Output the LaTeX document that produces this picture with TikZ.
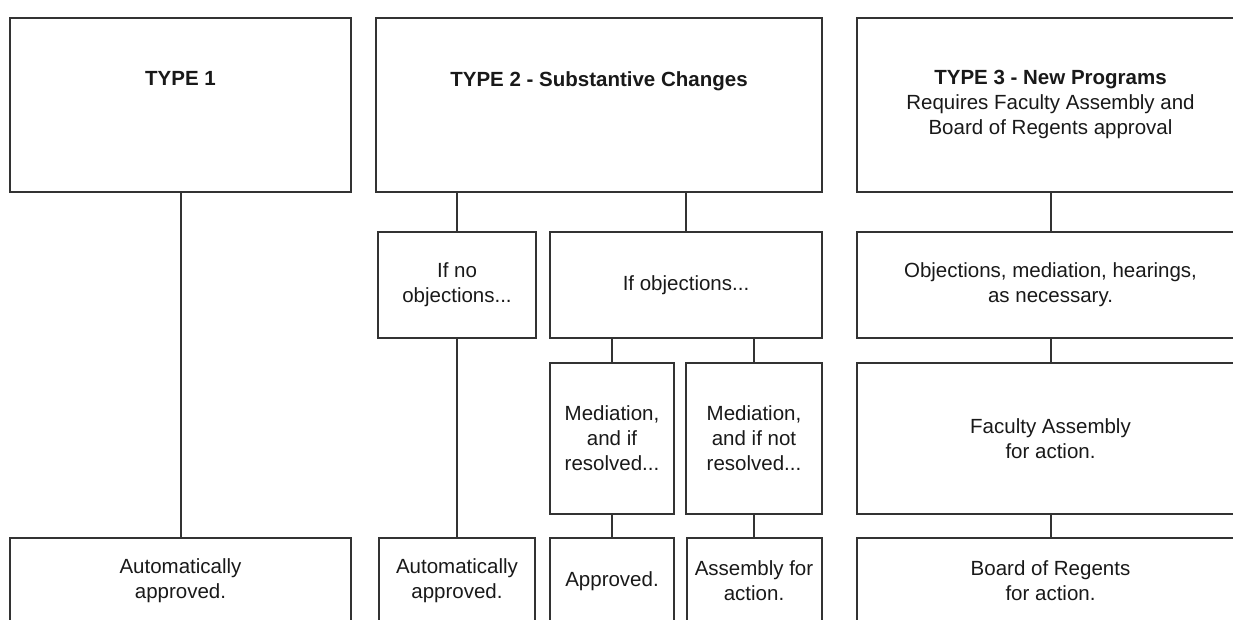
\documentclass[tikz,border=0pt]{standalone}
\usepackage{fontspec}
\setmainfont{Liberation Sans}
\usepackage{tikz}
\usetikzlibrary{arrows,positioning}

\begin{document}
\begin{tikzpicture}[x=1pt,y=-1pt,
    box/.style={draw=black!80, line width=2pt, align=center, inner sep=0pt,
      text=black!90, font=\fontsize{20.5}{25}\selectfont},
    toponly/.style={text depth=52pt},
    link/.style={draw=black!80, line width=2pt}]
  \clip (0,0) rectangle (1233,619);
  \node[box, toponly, minimum width=341, minimum height=174] (T1) at (180.5,104.7) {\textbf{TYPE 1}};
  \node[box, toponly, minimum width=446, minimum height=174] (T2) at (599,104.7) {\textbf{TYPE 2 - Substantive Changes}};
  \node[box, minimum width=387, minimum height=174] (T3) at (1050.5,104.7)
    {\textbf{TYPE 3 - New Programs}\\Requires Faculty Assembly and\\Board of Regents approval};
  \node[box, minimum width=158, minimum height=106] (NoObj) at (457,285) {If no\\objections...};
  \node[box, minimum width=272, minimum height=106] (Obj) at (686,285) {If objections...};
  \node[box, minimum width=387, minimum height=106] (T3Obj) at (1050.5,285) {Objections, mediation, hearings,\\as necessary.};
  \node[box, minimum width=124, minimum height=151] (MedYes) at (612,438.4) {Mediation,\\and if\\resolved...};
  \node[box, minimum width=136, minimum height=151] (MedNo) at (754,438.4) {Mediation,\\and if not\\resolved...};
  \node[box, minimum width=387, minimum height=151] (FA) at (1050.5,438.4) {Faculty Assembly\\for action.};
  \node[box, minimum width=341, minimum height=86] (Auto1) at (180.5,581) {Automatically\\approved.};
  \node[box, minimum width=156, minimum height=86] (Auto2) at (457,581) {Automatically\\approved.};
  \node[box, minimum width=124, minimum height=86] (Appr) at (612,581) {Approved.};
  \node[box, minimum width=135, minimum height=86] (Assem) at (754,581) {Assembly for\\action.};
  \node[box, minimum width=387, minimum height=86] (BoR) at (1050.5,581) {Board of Regents\\for action.};
  \foreach \p/\c in {T1/Auto1, T2/NoObj, T2/Obj, T3/T3Obj, NoObj/Auto2, Obj/MedYes, Obj/MedNo,
      T3Obj/FA, MedYes/Appr, MedNo/Assem, FA/BoR}
    \draw[link] (\p.south -| \c.north) -- (\c.north);
\end{tikzpicture}
\end{document}
